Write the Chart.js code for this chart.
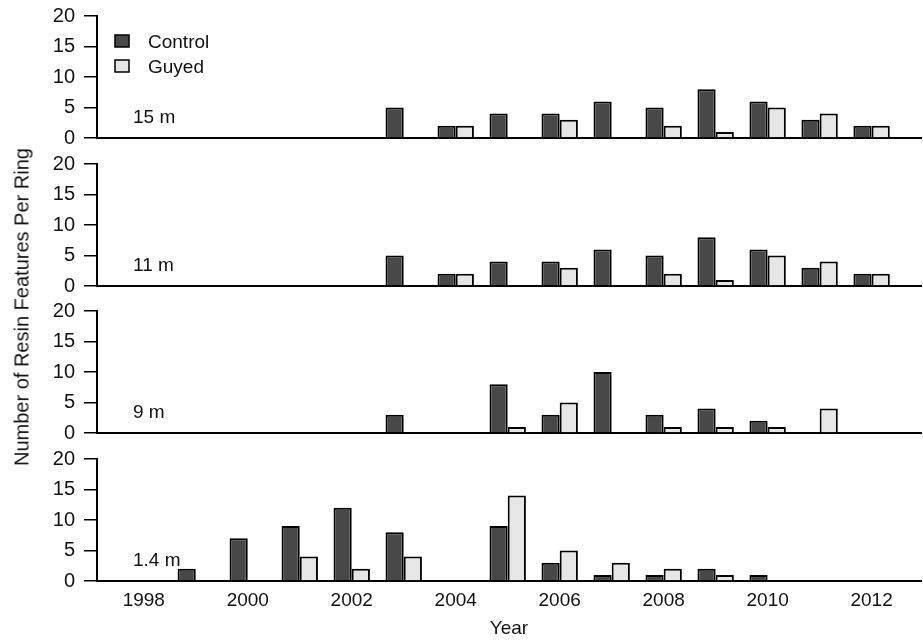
<!DOCTYPE html>
<html>
<head>
<meta charset="utf-8">
<script src="https://cdn.jsdelivr.net/npm/chart.js@4.4.1/dist/chart.umd.min.js"></script>
<style>
  html, body { margin: 0; padding: 0; background: #fff; }
  #wrap { position: relative; width: 923px; height: 642px; overflow: hidden; font-family: "Liberation Sans", Arial, sans-serif; }
  canvas { position: absolute; left: 0; }
  #ytitle {
    position: absolute; left: 22px; top: 307px;
    transform: translate(-50%, -50%) rotate(-90deg);
    white-space: nowrap; font-size: 20px; color: #111;
  }
</style>
</head>
<body>
<div id="wrap">
  <canvas id="p15" width="923" height="150"></canvas>
  <canvas id="p11" width="923" height="150"></canvas>
  <canvas id="p9" width="923" height="150"></canvas>
  <canvas id="p14" width="923" height="200"></canvas>
  <div id="ytitle">Number of Resin Features Per Ring</div>
</div>
<script>
// Ring years and tick labels
const years = [1998, 1999, 2000, 2001, 2002, 2003, 2004, 2005, 2006, 2007, 2008, 2009, 2010, 2011, 2012];
const yearTicks = [1998, 2000, 2002, 2004, 2006, 2008, 2010, 2012];
const countTicks = [0, 5, 10, 15, 20];
const seriesNames = ['Control', 'Guyed'];
const heights = ['15 m', '11 m', '9 m', '1.4 m'];

// Resin features per ring, by sampling height (null = none recorded)
const control15 = [null, null, null, null, null, 5, 2, 4, 4, 6, 5, 8, 6, 3, 2];
const guyed15   = [null, null, null, null, null, null, 2, null, 3, null, 2, 1, 5, 4, 2];
const control11 = [null, null, null, null, null, 5, 2, 4, 4, 6, 5, 8, 6, 3, 2];
const guyed11   = [null, null, null, null, null, null, 2, null, 3, null, 2, 1, 5, 4, 2];
const control9  = [null, null, null, null, null, 3, null, 8, 3, 10, 3, 4, 2, null, null];
const guyed9    = [null, null, null, null, null, null, null, 1, 5, null, 1, 1, 1, 4, null];
const control14 = [null, 2, 7, 9, 12, 8, null, 9, 3, 1, 1, 2, 1, null, null];
const guyed14   = [null, null, null, 4, 2, 4, null, 14, 5, 3, 2, 1, null, null, null];

const FONT = '"Liberation Sans", Arial, sans-serif';
const INK = '#111';
const FILLS = ['#484848', '#e6e6e6'];

Chart.defaults.font.family = FONT;
Chart.defaults.color = INK;

// Plot area geometry shared by all panels
const PLOT_H = 122;
const panelTops = [16, 164, 311, 459];
const BOTTOM_AXIS_H = 61;

function pts(vals) {
  return years.map((yr, i) => ({ x: yr, y: vals[i] }));
}

// Panel label ("15 m" etc.) and, on the top panel, the series key
const panelNotes = {
  id: 'panelNotes',
  afterDraw(chart, args, opts) {
    const { ctx, chartArea } = chart;
    ctx.save();
    ctx.font = '19px ' + FONT;
    ctx.fillStyle = INK;
    ctx.textBaseline = 'middle';
    ctx.textAlign = 'left';
    ctx.fillText(opts.label, chartArea.left + 36, chartArea.bottom - 20);
    if (opts.key) {
      chart.data.datasets.forEach((ds, i) => {
        const bx = chartArea.left + 18;
        const by = chartArea.top + 19 + i * 25;
        ctx.fillStyle = ds.backgroundColor;
        ctx.fillRect(bx, by, 14, 12);
        ctx.lineWidth = 1.5;
        ctx.strokeStyle = '#000';
        ctx.strokeRect(bx, by, 14, 12);
        ctx.fillStyle = INK;
        ctx.fillText(ds.label, chartArea.left + 51, by + 8);
      });
    }
    ctx.restore();
  }
};

function panelConfig(idx, ctrl, guy, bottom) {
  return {
    type: 'bar',
    data: {
      datasets: [
        { label: seriesNames[0], data: pts(ctrl), backgroundColor: FILLS[0], borderColor: '#000', borderWidth: 2 },
        { label: seriesNames[1], data: pts(guy), backgroundColor: FILLS[1], borderColor: '#000', borderWidth: 2 }
      ]
    },
    options: {
      responsive: false,
      maintainAspectRatio: false,
      animation: false,
      devicePixelRatio: 1,
      categoryPercentage: 0.7,
      barPercentage: 1.0,
      layout: { padding: { left: 0, right: 2, top: 0, bottom: 0 } },
      plugins: {
        legend: { display: false },
        tooltip: { enabled: false },
        panelNotes: { label: heights[idx], key: idx === 0 }
      },
      scales: {
        x: {
          type: 'linear',
          offset: false,
          min: 1997.1,
          max: 2012.95,
          grid: { display: false, drawTicks: false },
          border: { display: true, color: '#000', width: 2 },
          afterBuildTicks(scale) { scale.ticks = yearTicks.map(v => ({ value: v })); },
          afterFit(scale) { scale.height = bottom ? BOTTOM_AXIS_H : 2; },
          ticks: {
            display: bottom,
            padding: 8,
            font: { size: 19 },
            color: INK,
            maxRotation: 0,
            autoSkip: false,
            callback: v => String(v)
          },
          title: {
            display: bottom,
            text: 'Year',
            font: { size: 19 },
            color: INK,
            padding: { top: 0, bottom: 2 }
          }
        },
        y: {
          min: 0,
          max: 20,
          afterBuildTicks(scale) { scale.ticks = countTicks.map(v => ({ value: v })); },
          afterFit(scale) { scale.width = 97; },
          grid: { display: true, drawOnChartArea: false, drawTicks: true, tickLength: 13, color: '#000', lineWidth: 1.5 },
          border: { display: true, color: '#000', width: 2 },
          ticks: { padding: 9, font: { size: 20 }, color: INK, callback: v => String(v) }
        }
      }
    },
    plugins: [panelNotes]
  };
}

// Lay out a panel so its plot area sits exactly at the panel's slot
function makePanel(id, idx, ctrl, guy, bottom) {
  const canvas = document.getElementById(id);
  const probe = new Chart(canvas, panelConfig(idx, ctrl, guy, bottom));
  const above = probe.chartArea.top;
  const below = canvas.height - probe.chartArea.bottom;
  probe.destroy();
  canvas.width = 923;
  canvas.height = Math.round(above + PLOT_H + below);
  canvas.style.top = (panelTops[idx] - above) + 'px';
  return new Chart(canvas, panelConfig(idx, ctrl, guy, bottom));
}

makePanel('p15', 0, control15, guyed15, false);
makePanel('p11', 1, control11, guyed11, false);
makePanel('p9', 2, control9, guyed9, false);
makePanel('p14', 3, control14, guyed14, true);
</script>
</body>
</html>
